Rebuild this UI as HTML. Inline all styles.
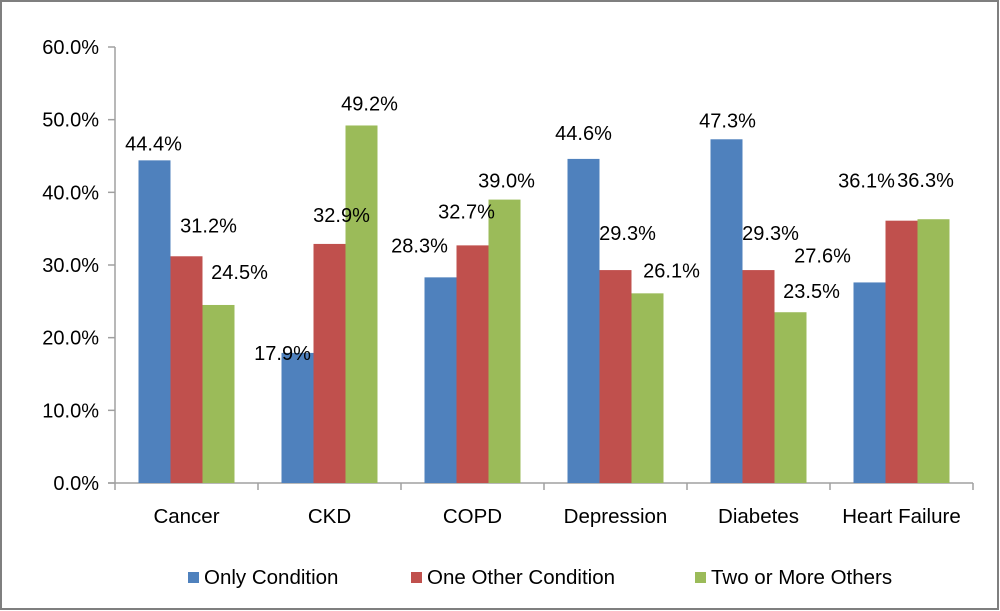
<!DOCTYPE html>
<html><head><meta charset="utf-8"><style>
body{margin:0;background:#fff}
svg{display:block;font-family:"Liberation Sans",Arial,sans-serif}
</style></head><body>
<svg width="1000" height="611">
<rect x="1" y="1" width="997" height="608" fill="#fff" stroke="#7f7f7f" stroke-width="2"/>
<g id="axes"></g><g id="bars"></g><g id="legend"></g>
</svg>
<script>
const categories=["Cancer","CKD","COPD","Depression","Diabetes","Heart Failure"];
const onlyCondition=[44.4,17.9,28.3,44.6,47.3,27.6];
const oneOther=[31.2,32.9,32.7,29.3,29.3,36.1];
const twoOrMore=[24.5,49.2,39.0,26.1,23.5,36.3];
const seriesNames=["Only Condition","One Other Condition","Two or More Others"];
const colors=["#4f81bd","#c0504d","#9bbb59"];
const yTicks=[0,10,20,30,40,50,60];
// label placement offsets relative to bar top-centre [series][category]
const labelDx=[[-1,-15,-21,0,1,-47],[22,12,-6,12,12,-35],[21,8,2,24,21,-8]];
const labelDy=[[-10,7,-25,-19,-12,-20],[-24,-22,-27,-30,-30,-33],[-26,-15,-12,-16,-14,-32]];
const NS="http://www.w3.org/2000/svg";
const x0=115,catW=143,y0=483,yTop=47,yMax=60,barW=32;
const y=v=>y0-(v/yMax)*(y0-yTop);
function mk(t,a,p){const e=document.createElementNS(NS,t);for(const k in a)e.setAttribute(k,a[k]);p.appendChild(e);return e;}
const ax=document.getElementById('axes'),bg=document.getElementById('bars'),lg=document.getElementById('legend');
let l=mk('line',{x1:x0,y1:yTop,x2:x0,y2:y0,stroke:'#a0a0a0','stroke-width':1.5},ax);


l=mk('line',{x1:x0-7,y1:y0,x2:x0+catW*6,y2:y0,stroke:'#a0a0a0','stroke-width':1.5},ax);


yTicks.forEach(v=>{
 mk('line',{x1:x0-7,y1:y(v),x2:x0,y2:y(v),stroke:'#a0a0a0','stroke-width':1.5},ax);
 const t=mk('text',{x:x0-16,y:y(v)+7,'text-anchor':'end','font-size':20,fill:'#000'},ax);
 t.textContent=v.toFixed(1)+'%';
 
 
});
for(let i=0;i<=6;i++)mk('line',{x1:x0+i*catW,y1:y0,x2:x0+i*catW,y2:y0+7,stroke:'#a0a0a0','stroke-width':1.5},ax);
const series=[onlyCondition,oneOther,twoOrMore];
categories.forEach((c,i)=>{
 const cx=x0+(i+0.5)*catW;
 const t=mk('text',{x:cx,y:523,'text-anchor':'middle','font-size':20.5,fill:'#000'},ax);
 t.textContent=c;
 
 
 series.forEach((s,j)=>{
  const bx=cx-1.5*barW+j*barW;
  const r=mk('rect',{x:bx,y:y(s[i]),width:barW,height:y0-y(s[i]),fill:colors[j]},bg);
  
  
 });
});
categories.forEach((c,i)=>{
 const cx=x0+(i+0.5)*catW;
 series.forEach((s,j)=>{
  const bx=cx-1.5*barW+j*barW;
  const lb=mk('text',{x:bx+barW/2+labelDx[j][i],y:y(s[i])+labelDy[j][i],'text-anchor':'middle','font-size':20,fill:'#000'},bg);
  lb.textContent=s[i].toFixed(1)+'%';
  
  
 });
});
const lx=[188,411,695];
seriesNames.forEach((n,j)=>{
 const r=mk('rect',{x:lx[j],y:572,width:11,height:11,fill:colors[j]},lg);
 
 
 const t=mk('text',{x:lx[j]+16,y:584,'font-size':20.5,fill:'#000'},lg);
 t.textContent=n;
 
 
});
</script>
</body></html>
